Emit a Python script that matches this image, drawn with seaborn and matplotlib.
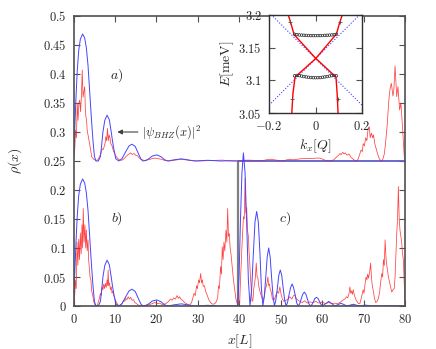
import matplotlib
matplotlib.use("Agg")
import matplotlib.pyplot as plt
from matplotlib.ticker import FuncFormatter, MultipleLocator
import seaborn as sns
import pandas as pd

# ---------------- data ----------------
OFFSET_A = 0.25

# |psi_BHZ(x)|^2 (blue, panels a and b)
bhz_x = [0, 0.3, 0.6, 0.9, 1.25, 1.65, 2.2, 2.7, 3.1, 3.5, 3.9, 4.3, 4.7, 5.05, 5.4,
         6.0, 6.5, 6.8, 7.1, 7.55, 8.1, 8.65, 9.1, 9.4, 9.7, 10.2, 10.9,
         11.7, 12.6, 13.4, 14.1, 14.9, 15.7, 16.3, 16.8,
         17.5, 18.2, 19.0, 20.1, 21.1, 22.0, 22.8,
         24.2, 26.0, 27.6, 29.2, 32.4, 35.5, 37.6, 39.6]
bhz_y = [0, 0.055, 0.11, 0.155, 0.19, 0.21, 0.219, 0.212, 0.195, 0.165, 0.12, 0.075, 0.035, 0.008, 0.0,
         0.0, 0.008, 0.028, 0.05, 0.07, 0.079, 0.071, 0.05, 0.035, 0.022, 0.004, 0.0,
         0.004, 0.016, 0.026, 0.029, 0.025, 0.012, 0.003, 0.0,
         0.001, 0.004, 0.0085, 0.0105, 0.0075, 0.002, 0.0,
         0.002, 0.0037, 0.002, 0.0, 0.0012, 0.0, 0.0004, 0.0]

# blue, panel c
c_blue_x = [39.6, 39.95, 40.3, 40.65, 41.0, 41.4, 41.8, 42.2, 42.6,
            43.0, 43.4, 43.8, 44.2, 44.6, 45.0, 45.35, 45.7,
            46.05, 46.4, 46.75, 47.1, 47.45, 47.8, 48.15, 48.5,
            48.85, 49.2, 49.55, 49.9, 50.25, 50.6, 50.95, 51.3,
            51.65, 52.0, 52.4, 52.75, 53.1, 53.5, 53.85, 54.2,
            54.6, 54.95, 55.3, 55.7, 56.1, 56.45, 56.8, 57.2,
            57.55, 57.9, 58.25, 58.65, 59.0, 59.4, 59.75, 60.1,
            60.85, 61.6, 62.35, 63.1, 63.8, 64.55, 65.3, 66.0,
            66.75, 67.5, 68.25, 69.0, 69.75, 70.5, 71.25, 72.0, 76.0, 80.0]
c_blue_y = [0, 0.05, 0.15, 0.23, 0.264, 0.23, 0.14, 0.045, 0,
            0.03, 0.09, 0.145, 0.163, 0.145, 0.09, 0.03, 0,
            0.017, 0.05, 0.085, 0.10, 0.085, 0.05, 0.017, 0,
            0.011, 0.031, 0.053, 0.062, 0.053, 0.031, 0.011, 0,
            0.006, 0.019, 0.032, 0.038, 0.032, 0.019, 0.006, 0,
            0.004, 0.012, 0.020, 0.024, 0.020, 0.012, 0.004, 0,
            0.0025, 0.0075, 0.013, 0.015, 0.013, 0.0075, 0.0025, 0,
            0.004, 0.008, 0.004, 0, 0.0024, 0.0047, 0.0024, 0,
            0.0015, 0.003, 0.0015, 0, 0.0008, 0.0015, 0.0008, 0, 0.0005, 0.0]

# red, panel a (before the 0.25 offset)
red_a_x = [0, 0.3, 0.5, 0.7, 0.9, 1.1, 1.3, 1.5, 1.7, 1.9, 2.1, 2.3, 2.5, 2.7, 2.85, 3.0, 3.15,
           3.3, 3.5, 3.75, 4.0, 4.4, 4.9, 5.4, 5.9, 6.3, 6.6, 6.8, 7.0, 7.2, 7.4, 7.6, 7.8, 8.0,
           8.2, 8.4, 8.6, 8.8, 9.0, 9.3, 9.6, 9.9, 10.2, 10.5, 11.0, 11.6, 12.2, 12.6, 13.0,
           13.4, 13.8, 14.2, 14.6, 15.0, 15.4, 15.9, 16.5, 17.2, 18.0, 19.0, 19.6, 20.4, 21.2,
           22.0, 23.0, 24.0, 25.0, 26.0, 27.0, 28.0, 30.0, 32.0, 34.0, 36.0, 37.0, 38.5, 40.0,
           42.0, 44.0, 45.5, 46.5, 47.5, 48.5, 49.5, 50.5, 51.5, 52.2, 53.0, 54.0, 55.0, 56.0,
           57.0, 57.8, 58.6, 59.4, 60.2, 61.0, 62.0, 62.8, 63.5, 64.0, 64.3, 64.6, 65.0, 65.3,
           65.6, 66.0, 66.5, 67.0, 67.5, 68.1, 68.6, 69.0, 69.4, 69.7, 69.9, 70.2, 70.5, 70.8,
           71.1, 71.4, 71.6, 71.9, 72.2, 72.4, 72.7, 73.0, 73.4, 73.8, 74.2, 74.6, 75.0, 75.3,
           75.7, 76.1, 76.4, 76.7, 77.1, 77.3, 77.6, 78.0, 78.3, 78.7, 79.0, 79.4, 79.8, 80.0]
red_a_y = [0.007, 0.02, 0.053, 0.04, 0.099, 0.07, 0.10, 0.105, 0.085, 0.11, 0.157, 0.11, 0.12,
           0.128, 0.09, 0.076, 0.07, 0.053, 0.045, 0.036, 0.025, 0.007, 0.003, 0.001, 0.002,
           0.008, 0.013, 0.018, 0.021, 0.02, 0.025, 0.03, 0.042, 0.035, 0.056, 0.035, 0.045,
           0.04, 0.03, 0.026, 0.018, 0.013, 0.009, 0.006, 0.002, 0.001, 0.004, 0.007, 0.01,
           0.012, 0.014, 0.011, 0.013, 0.01, 0.009, 0.005, 0.002, 0.001, 0.002, 0.004, 0.005,
           0.004, 0.003, 0.001, 0.0, 0.001, 0.002, 0.003, 0.002, 0.001, 0.0, 0.0005, 0.001,
           0.0015, 0.0005, 0.0, 0.0005, 0.0015, 0.001, 0.0005, 0.002, 0.003, 0.002, 0.001, 0.0,
           0.002, 0.003, 0.002, 0.003, 0.004, 0.004, 0.0045, 0.0045, 0.005, 0.005, 0.003,
           0.0005, 0.0, 0.002, 0.007, 0.01, 0.013, 0.011, 0.015, 0.012, 0.014, 0.01, 0.012,
           0.006, 0.003, 0.0, 0.002, 0.01, 0.019, 0.016, 0.03, 0.026, 0.04, 0.035, 0.056,
           0.059, 0.04, 0.048, 0.04, 0.045, 0.03, 0.022, 0.012, 0.004, 0.0, 0.002, 0.012,
           0.03, 0.062, 0.105, 0.125, 0.134, 0.112, 0.122, 0.164, 0.111, 0.128, 0.088, 0.10,
           0.059, 0.01, 0.0]

# red, panels b and c
red_bot_x = [0, 0.3, 0.5, 0.65, 0.85, 1.05, 1.25, 1.45, 1.65, 1.85, 2.05, 2.2, 2.35, 2.55, 2.75,
             2.95, 3.1, 3.3, 3.5, 3.65, 3.8, 4.0, 4.2, 4.4, 4.6, 4.9, 5.3, 5.8,
             6.2, 6.5, 6.7, 6.9, 7.1, 7.3, 7.5, 7.7, 7.9, 8.1, 8.25, 8.35, 8.5, 8.7, 8.9, 9.1,
             9.3, 9.5, 9.7, 10.0, 10.3, 10.7, 11.2,
             11.7, 12.1, 12.4, 12.6, 12.9, 13.2, 13.5, 13.8, 14.1, 14.5, 14.8, 15.2, 15.6, 16.2,
             17.0, 18.0, 19.0, 19.6, 20.2, 20.8, 21.5, 22.2,
             22.8, 23.4, 23.8, 24.2, 24.6, 25.0, 25.3, 25.6, 26.0, 26.3, 26.8, 27.5, 28.0,
             28.5, 29.1, 29.4, 29.7, 29.9, 30.2, 30.4, 30.7, 30.9, 31.1, 31.3, 31.6, 31.9,
             32.3, 32.7, 33.2, 33.6, 34.1, 34.5,
             34.8, 35.0, 35.2, 35.5, 35.7, 35.9, 36.1, 36.3, 36.5, 36.8, 37.0, 37.2, 37.4,
             37.6, 37.8, 38.0, 38.2, 38.4, 38.6, 38.9, 39.2, 39.6,
             40.1, 40.3, 40.5, 40.7, 40.85, 41.0, 41.2, 41.4, 41.6, 41.8, 42.0, 42.2, 42.35,
             42.5, 42.7, 42.9, 43.1, 43.3, 43.5, 43.7, 43.9, 44.1, 44.3, 44.5, 44.7, 44.9,
             45.2, 45.5, 45.8, 46.1, 46.3, 46.5, 46.7, 46.9, 47.1, 47.3, 47.5, 47.7, 48.0,
             48.2, 48.5, 48.9, 49.2, 49.5, 49.8, 50.1, 50.4, 50.8, 51.3, 51.8, 52.2, 52.7,
             53.1, 53.4, 53.8, 54.2, 54.6, 55.2, 55.8, 56.4, 57.0, 57.8, 58.5, 59.2, 60.0,
             60.8, 61.6, 62.4, 63.0, 63.6, 64.3, 65.0, 65.5, 65.9, 66.2, 66.5, 66.7, 66.9,
             67.1, 67.3, 67.5, 67.8, 68.1, 68.4, 68.8, 69.1, 69.5, 69.9, 70.1, 70.4, 70.6,
             70.8, 71.0, 71.2, 71.5, 71.7, 71.9, 72.1, 72.3, 72.6, 72.9, 73.3, 73.6, 73.9,
             74.1, 74.4, 74.6, 74.8, 75.0, 75.2, 75.4, 75.6, 75.8, 76.0, 76.3, 76.6, 76.8,
             77.1, 77.4, 77.6, 77.8, 78.0, 78.2, 78.4, 78.6, 78.8, 79.0, 79.2, 79.4, 79.6,
             79.8, 80.0]
red_bot_y = [0, 0.02, 0.045, 0.03, 0.11, 0.07, 0.115, 0.08, 0.126, 0.09, 0.14, 0.10, 0.168, 0.11,
             0.14, 0.10, 0.131, 0.095, 0.114, 0.08, 0.068, 0.05, 0.045, 0.025, 0.02, 0.007,
             0.0, 0.002,
             0.012, 0.022, 0.018, 0.033, 0.028, 0.038, 0.03, 0.039, 0.032, 0.045, 0.035, 0.062,
             0.035, 0.04, 0.028, 0.033, 0.022, 0.026, 0.018, 0.012, 0.007, 0.002, 0.0,
             0.004, 0.01, 0.008, 0.013, 0.011, 0.016, 0.012, 0.015, 0.01, 0.011, 0.006, 0.004,
             0.002, 0.0,
             0.001, 0.002, 0.004, 0.006, 0.004, 0.005, 0.002, 0.004,
             0.007, 0.012, 0.01, 0.014, 0.012, 0.018, 0.013, 0.016, 0.011, 0.01, 0.006, 0.003,
             0.001,
             0.006, 0.022, 0.018, 0.035, 0.03, 0.045, 0.04, 0.056, 0.04, 0.045, 0.034, 0.035,
             0.025, 0.018, 0.01, 0.005, 0.003, 0.004, 0.008,
             0.015, 0.035, 0.03, 0.068, 0.055, 0.102, 0.08, 0.11, 0.095, 0.131, 0.11, 0.168,
             0.12, 0.125, 0.10, 0.09, 0.075, 0.062, 0.045, 0.028, 0.012, 0.002,
             0.005, 0.045, 0.079, 0.11, 0.13, 0.154, 0.15, 0.22, 0.16, 0.17, 0.13, 0.12, 0.095,
             0.079, 0.05, 0.03, 0.008, 0.01, 0.03, 0.039, 0.05, 0.074, 0.05, 0.048, 0.035,
             0.028, 0.02, 0.014, 0.01, 0.018, 0.03, 0.033, 0.04, 0.05, 0.035, 0.038, 0.028,
             0.025, 0.012, 0.01, 0.012, 0.02, 0.025, 0.022, 0.033, 0.02, 0.012, 0.008, 0.01,
             0.012, 0.016, 0.012, 0.018, 0.019, 0.012, 0.01, 0.008, 0.006, 0.009, 0.005,
             0.007, 0.006, 0.008, 0.005, 0.007, 0.004, 0.006, 0.004, 0.005, 0.004, 0.006,
             0.01, 0.012, 0.016, 0.014, 0.022, 0.033, 0.022, 0.026, 0.02, 0.028, 0.018, 0.012,
             0.008, 0.004, 0.004, 0.015, 0.028, 0.022, 0.04, 0.05, 0.045, 0.055, 0.048, 0.06,
             0.074, 0.05, 0.035, 0.028, 0.015, 0.006, 0.008, 0.014, 0.025, 0.04, 0.056, 0.05,
             0.08, 0.07, 0.114, 0.085, 0.07, 0.06, 0.05, 0.04, 0.03, 0.024, 0.028, 0.03, 0.05,
             0.09, 0.125, 0.15, 0.206, 0.15, 0.13, 0.12, 0.11, 0.09, 0.08, 0.04, 0.002]

# inset: dispersion
lin_k = [-0.2, 0.2]
lin_e_up = [3.062, 3.204]
lin_e_dn = [3.204, 3.062]
red1_k = [-0.117, -0.104, -0.092, 0.0, 0.088, 0.093, 0.097]
red1_e = [3.200, 3.185, 3.170, 3.134, 3.105, 3.08, 3.05]
red2_k = [-0.102, -0.097, -0.088, 0.0, 0.090, 0.102, 0.115]
red2_e = [3.050, 3.08, 3.105, 3.133, 3.171, 3.186, 3.200]
mark_k = [-0.100, 0.095, -0.108, 0.106]
mark_e = [3.072, 3.072, 3.190, 3.190]
band_k = [-0.09, -0.08, -0.07, -0.06, -0.05, -0.04, -0.03, -0.02, -0.01, 0.0,
          0.01, 0.02, 0.03, 0.04, 0.05, 0.06, 0.07, 0.08, 0.09]
band_up = [3.1705, 3.1700, 3.1695, 3.1692, 3.1690, 3.1688, 3.1686, 3.1685, 3.1685, 3.1685,
           3.1685, 3.1685, 3.1686, 3.1688, 3.1690, 3.1692, 3.1695, 3.1700, 3.1705]
band_dn = [3.1070, 3.1075, 3.1072, 3.1065, 3.1058, 3.1052, 3.1047, 3.1043, 3.1041, 3.1040,
           3.1041, 3.1043, 3.1047, 3.1052, 3.1058, 3.1065, 3.1072, 3.1075, 3.1070]

BOX_X = 39.7
BOX_TOP = 0.25

# ---------------- style ----------------
sns.set_style("ticks")
plt.rcParams["mathtext.fontset"] = "cm"
plt.rcParams["font.family"] = ["DejaVu Serif"]
FS = 9
SPINE = "#505050"
BLUE = "#4444ff"
RED = "#ff2020"

fig = plt.figure(figsize=(4.36, 3.49), dpi=100)
ax = fig.add_axes([0.1686, 0.1232, 0.7603, 0.8310])

def mfmt(v, pos):
    return "$%g$" % round(v, 3)

# panel a (offset by 0.25)
df_ra = pd.DataFrame({"x": red_a_x, "y": [v + OFFSET_A for v in red_a_y]})
sns.lineplot(data=df_ra, x="x", y="y", ax=ax, color=RED, lw=0.55, alpha=0.85)
df_ba = pd.DataFrame({"x": bhz_x + [80.0], "y": [v + OFFSET_A for v in bhz_y] + [OFFSET_A]})
sns.lineplot(data=df_ba, x="x", y="y", ax=ax, color=BLUE, lw=0.7)

# panels b, c
df_rb = pd.DataFrame({"x": red_bot_x, "y": red_bot_y})
sns.lineplot(data=df_rb, x="x", y="y", ax=ax, color=RED, lw=0.55, alpha=0.85)
df_bb = pd.DataFrame({"x": bhz_x, "y": bhz_y})
sns.lineplot(data=df_bb, x="x", y="y", ax=ax, color=BLUE, lw=0.7)
df_bc = pd.DataFrame({"x": c_blue_x, "y": c_blue_y})
sns.lineplot(data=df_bc, x="x", y="y", ax=ax, color=BLUE, lw=0.7)

# frame of panel c
ax.vlines(BOX_X, 0, BOX_TOP, color="#808080", lw=1.6, zorder=1)
ax.hlines(BOX_TOP, BOX_X, 80, color="#808080", lw=1.2, zorder=1)

ax.set_xlim(0, 80)
ax.set_ylim(0, 0.5)
ax.xaxis.set_major_locator(MultipleLocator(10))
ax.yaxis.set_major_locator(MultipleLocator(0.05))
ax.xaxis.set_major_formatter(FuncFormatter(mfmt))
ax.yaxis.set_major_formatter(FuncFormatter(mfmt))
ax.tick_params(direction="in", top=True, right=True, length=4, width=0.8,
               color=SPINE, labelsize=FS, pad=5)
for s in ax.spines.values():
    s.set_color(SPINE)
    s.set_linewidth(1.2)
ax.set_xlabel("$x[L]$", fontsize=FS + 1, labelpad=4)
ax.set_ylabel(r"$\rho(x)$", fontsize=FS + 1, labelpad=14)

ax.text(10.5, 0.398, "$a)$", fontsize=FS + 1, ha="center", va="center")
ax.text(10.5, 0.150, "$b)$", fontsize=FS + 1, ha="center", va="center")
ax.text(51.0, 0.150, "$c)$", fontsize=FS + 1, ha="center", va="center")
ax.annotate("", xy=(9.9, 0.300), xytext=(16.2, 0.300),
            arrowprops=dict(arrowstyle="-|>", color="#404040", lw=0.8, mutation_scale=7))
ax.text(16.5, 0.300, r"$|\psi_{BHZ}(x)|^2$", fontsize=FS, ha="left", va="center")

# ---------------- inset ----------------
ins = fig.add_axes([0.617, 0.6762, 0.2133, 0.2808])
ins.set_facecolor("white")
df_l1 = pd.DataFrame({"k": lin_k, "E": lin_e_up})
df_l2 = pd.DataFrame({"k": lin_k, "E": lin_e_dn})
sns.lineplot(data=df_l1, x="k", y="E", ax=ins, color="#4040ff", lw=0.8, dashes=False)
sns.lineplot(data=df_l2, x="k", y="E", ax=ins, color="#4040ff", lw=0.8, dashes=False)
for ln in ins.get_lines():
    ln.set_linestyle((0, (1, 1.6)))
df_r1 = pd.DataFrame({"k": red1_k, "E": red1_e})
df_r2 = pd.DataFrame({"k": red2_k, "E": red2_e})
sns.lineplot(data=df_r1, x="k", y="E", ax=ins, color="#ff0000", lw=1.0, sort=False)
sns.lineplot(data=df_r2, x="k", y="E", ax=ins, color="#ff0000", lw=1.0, sort=False)
df_bu = pd.DataFrame({"k": band_k + band_k, "E": band_up + band_dn})
sns.scatterplot(data=df_bu, x="k", y="E", ax=ins, marker="o", s=3.5, facecolor="none",
                edgecolor="#303030", linewidth=0.5, zorder=5)
df_m = pd.DataFrame({"k": mark_k, "E": mark_e})
sns.scatterplot(data=df_m, x="k", y="E", ax=ins, marker="+", s=8, color="#505050",
                linewidth=0.6, zorder=5)
ins.set_xlim(-0.2, 0.2)
ins.set_ylim(3.05, 3.2)
ins.set_xticks([-0.2, 0.0, 0.2])
ins.set_yticks([3.05, 3.1, 3.15, 3.2])
ins.xaxis.set_major_formatter(FuncFormatter(mfmt))
ins.yaxis.set_major_formatter(FuncFormatter(mfmt))
ins.tick_params(direction="in", top=True, right=True, length=4, width=0.8,
                color=SPINE, labelsize=FS, pad=5)
for s in ins.spines.values():
    s.set_color("#303030")
    s.set_linewidth(1.0)
ins.set_xlabel("$k_x[Q]$", fontsize=FS + 1, labelpad=3)
ins.set_ylabel("$E[\\mathrm{meV}]$", fontsize=FS + 1, labelpad=2)

fig.savefig("out.png", dpi=100)
